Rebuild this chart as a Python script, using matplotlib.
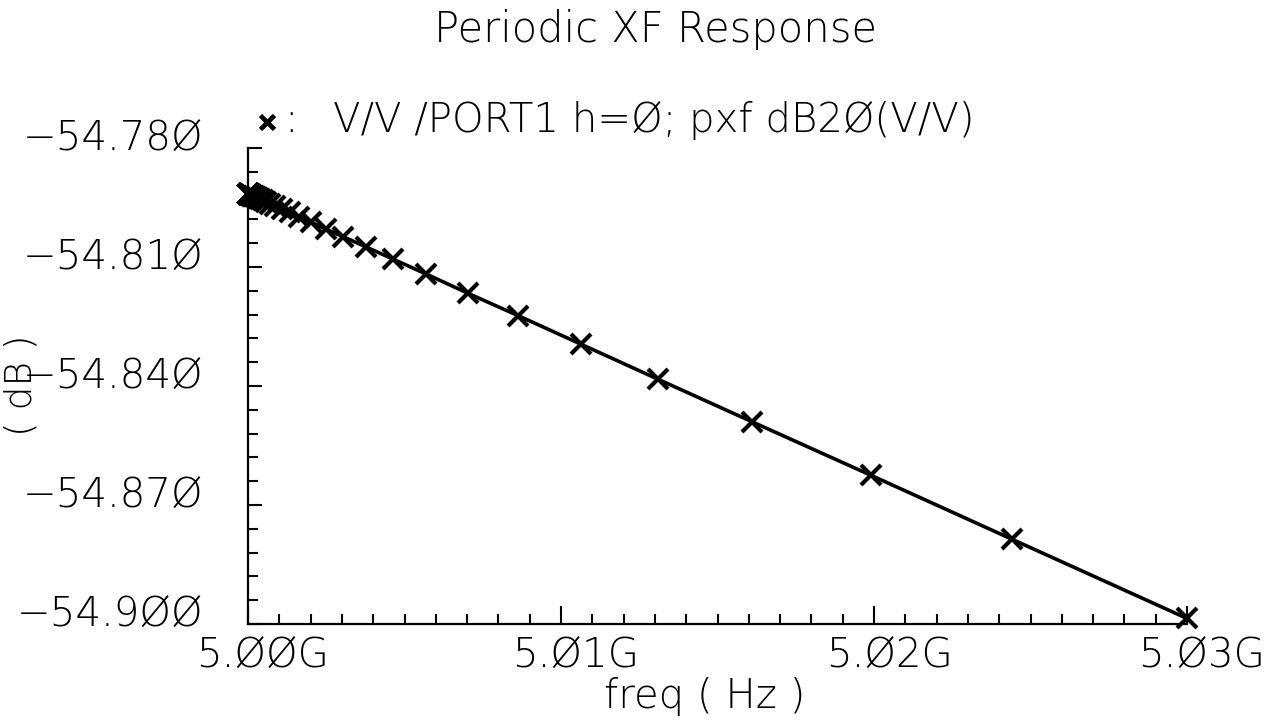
import matplotlib
matplotlib.use("Agg")
import matplotlib.pyplot as plt
from matplotlib.lines import Line2D
from matplotlib.ticker import MultipleLocator
from matplotlib.transforms import ScaledTranslation

# ---------------- data ----------------
base_freq_hz = 5.00e9
freq_offset_mhz = [
    30.0, 24.4, 19.9, 16.1, 13.1, 10.65, 8.64, 7.02, 5.70, 4.63,
    3.76, 3.05, 2.48, 2.01, 1.63, 1.33, 1.08, 0.874, 0.710, 0.576,
    0.468, 0.380, 0.308, 0.250, 0.203, 0.165, 0.134, 0.109, 0.088, 0.072,
    0.058, 0.047, 0.038, 0.031, 0.025, 0.020, 0.0165, 0.0134, 0.0109, 0.0088,
    0.0072, 0.0058, 0.0047, 0.0038, 0.0031, 0.0025, 0.0020, 0.0016, 0.0013, 0.0010,
]
pxf_db20 = [
    -54.8986, -54.8786, -54.8625, -54.8490, -54.8383, -54.8295, -54.8223, -54.8166, -54.8118, -54.8080,
    -54.8049, -54.8024, -54.8004, -54.7987, -54.7973, -54.7962, -54.7954, -54.7946, -54.7940, -54.7936,
    -54.7932, -54.7929, -54.7926, -54.7924, -54.7922, -54.7921, -54.7920, -54.7919, -54.7918, -54.7918,
    -54.7917, -54.7917, -54.7916, -54.7916, -54.7916, -54.7916, -54.7916, -54.7915, -54.7915, -54.7915,
    -54.7915, -54.7915, -54.7915, -54.7915, -54.7915, -54.7915, -54.7915, -54.7915, -54.7915, -54.7915,
]

xtick_values_ghz = [5.00, 5.01, 5.02, 5.03]
xtick_labels = ["5.ØØG", "5.Ø1G", "5.Ø2G", "5.Ø3G"]
ytick_values = [-54.900, -54.870, -54.840, -54.810, -54.780]
ytick_labels = ["\u221254.9ØØ", "\u221254.87Ø", "\u221254.84Ø", "\u221254.81Ø", "\u221254.78Ø"]

title_text = "Periodic XF Response"
legend_text = "V/V /PORT1 h=Ø; pxf dB2Ø(V/V)"
xlabel_text = "freq ( Hz )"
ylabel_text = "( dB )"

# ---------------- figure ----------------
freq_hz = [base_freq_hz + f * 1e6 for f in freq_offset_mhz]

W, H, DPI = 1271, 723, 100
FS = 29
plt.rcParams['font.family'] = ['DejaVu Sans']
plt.rcParams['font.weight'] = 'light'
plt.rcParams['axes.unicode_minus'] = True

fig = plt.figure(figsize=(W / DPI, H / DPI), dpi=DPI)
fig.patch.set_facecolor('white')
ax = fig.add_axes([248 / W, 1 - 624 / H, 939 / W, 476 / H])
ax.set_facecolor('white')

ax.plot(freq_hz, pxf_db20, color='black', lw=2.6, marker='x', ms=14,
        mew=3.0, clip_on=False, zorder=3)

ax.set_xlim(5.00e9, 5.03e9)
ax.set_ylim(-54.900, -54.780)

for s in ['top', 'right']:
    ax.spines[s].set_visible(False)
for s in ['left', 'bottom']:
    ax.spines[s].set_linewidth(1.6)
    ax.spines[s].set_color('black')

ax.set_xticks([v * 1e9 for v in xtick_values_ghz])
ax.set_xticklabels(xtick_labels)
ax.set_yticks(ytick_values)
ax.set_yticklabels(ytick_labels)
ax.xaxis.set_minor_locator(MultipleLocator(1e6))
ax.yaxis.set_minor_locator(MultipleLocator(0.006))

ax.tick_params(axis='both', which='both', direction='in', width=1.5, colors='black')
ax.tick_params(axis='x', which='major', length=13, pad=9.5, labelsize=FS)
ax.tick_params(axis='x', which='minor', length=7)
ax.tick_params(axis='y', which='major', length=10, pad=32, labelsize=FS)
ax.tick_params(axis='y', which='minor', length=7)

# shift tick labels like the reference (x labels right, y labels up)
for lab in ax.get_xticklabels():
    lab.set_transform(lab.get_transform() + ScaledTranslation(15 / DPI, 0, fig.dpi_scale_trans))
for lab in ax.get_yticklabels():
    lab.set_transform(lab.get_transform() + ScaledTranslation(0, 13 / DPI, fig.dpi_scale_trans))

# title
fig.text(655 / W, 1 - 42 / H, title_text, ha='center', va='baseline', fontsize=FS + 1)

# legend entry
fig.add_artist(Line2D([267 / W], [1 - 122 / H], transform=fig.transFigure,
                      marker='x', ms=10, mew=3.4, color='black', linestyle='none'))
fig.text(284 / W, 1 - 132 / H, ":", ha='left', va='baseline', fontsize=FS)
fig.text(333 / W, 1 - 132 / H, legend_text, ha='left', va='baseline', fontsize=FS)

# axis labels
fig.text(705 / W, 1 - 708 / H, xlabel_text, ha='center', va='baseline', fontsize=FS)
fig.text(21 / W, 1 - 385 / H, ylabel_text, ha='center', va='center', rotation=90, fontsize=27)

fig.savefig("out.png", dpi=DPI, facecolor='white')
